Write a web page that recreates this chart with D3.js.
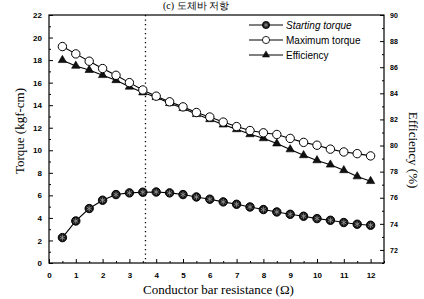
<!DOCTYPE html>
<html>
<head>
<meta charset="utf-8">
<script src="https://cdn.jsdelivr.net/npm/d3@7"></script>
<style>
  body { margin: 0; background: #fff; }
  .tick text { font-family: "Liberation Sans", Arial, sans-serif; font-weight: bold; font-size: 8px; }
</style>
</head>
<body>
<div id="chart"></div>
<script>
// resistance values (ohm)
const resistance = [0.5,1,1.5,2,2.5,3,3.5,4,4.5,5,5.5,6,6.5,7,7.5,8,8.5,9,9.5,10,10.5,11,11.5,12];
const startingTorque = [2.25,3.73,4.83,5.57,6.07,6.22,6.28,6.3,6.22,6.07,5.86,5.66,5.42,5.21,4.97,4.74,4.53,4.32,4.15,3.94,3.79,3.59,3.44,3.35];
const maximumTorque = [19.2,18.55,17.9,17.25,16.65,16.0,15.35,14.8,14.3,13.85,13.35,12.95,12.5,12.1,11.75,11.55,11.4,11.05,10.7,10.45,10.1,9.85,9.7,9.5];
const efficiency = [86.54,86.1,85.78,85.39,85.0,84.5,84.06,83.7,83.24,82.86,82.4,82.01,81.6,81.24,80.86,80.55,80.15,79.7,79.25,78.86,78.53,78.1,77.63,77.27];
const xTicks = [0,1,2,3,4,5,6,7,8,9,10,11,12];
const leftTicks = [0,2,4,6,8,10,12,14,16,18,20,22];
const rightTicks = [72,74,76,78,80,82,84,86,88,90];
const markerX = 3.6;
const legendNames = ["Starting torque", "Maximum torque", "Efficiency"];

const W = 424, H = 299;
const m = {left: 49, right: 40, top: 15, bottom: 36};

const svg = d3.select("#chart").append("svg")
  .attr("width", W).attr("height", H);

const x = d3.scaleLinear().domain([0, 12.5]).range([m.left, W - m.right]);
const yL = d3.scaleLinear().domain([0, 22]).range([H - m.bottom, m.top]);
const yR = d3.scaleLinear().domain([71, 90]).range([H - m.bottom, m.top]);

// caption at the very top
svg.append("text")
  .attr("x", 196).attr("y", 9)
  .attr("text-anchor", "middle")
  .style("font-family", "Liberation Serif, serif").style("font-size", "10px")
  .text("(c) 도체바 저항");

// frame
svg.append("rect")
  .attr("x", x(0)).attr("y", yL(22))
  .attr("width", x(12.5) - x(0)).attr("height", yL(0) - yL(22))
  .attr("fill", "none").attr("stroke", "#000").attr("stroke-width", 1.2);

// axes (ticks pointing in)
const minor = (a, b, s) => d3.range(a, b + 0.001, s);

svg.append("g").attr("transform", `translate(0,${yL(0)})`)
  .call(d3.axisBottom(x).tickValues(minor(0.5, 12.5, 1)).tickSize(-2).tickFormat(""))
  .call(g => g.select(".domain").remove());
svg.append("g").attr("transform", `translate(0,${yL(0)})`)
  .call(d3.axisBottom(x).tickValues(xTicks).tickSize(-4).tickPadding(8).tickFormat(d3.format("d")))
  .call(g => g.select(".domain").remove())
  .call(g => g.selectAll("text").attr("dy", "0.9em"));

svg.append("g").attr("transform", `translate(${x(0)},0)`)
  .call(d3.axisLeft(yL).tickValues(minor(1, 21, 2)).tickSize(-2).tickFormat(""))
  .call(g => g.select(".domain").remove());
svg.append("g").attr("transform", `translate(${x(0)},0)`)
  .call(d3.axisLeft(yL).tickValues(leftTicks).tickSize(-4).tickPadding(7).tickFormat(d3.format("d")))
  .call(g => g.select(".domain").remove());

svg.append("g").attr("transform", `translate(${x(12.5)},0)`)
  .call(d3.axisRight(yR).tickValues(minor(71, 89, 2)).tickSize(-2).tickFormat(""))
  .call(g => g.select(".domain").remove());
svg.append("g").attr("transform", `translate(${x(12.5)},0)`)
  .call(d3.axisRight(yR).tickValues(rightTicks).tickSize(-4).tickPadding(6).tickFormat(d3.format("d")))
  .call(g => g.select(".domain").remove())
  .call(g => g.selectAll("text").style("font-size", "7px"));

svg.selectAll(".tick line").attr("stroke", "#000");

// axis titles
const serif = "'Liberation Serif', 'Times New Roman', serif";
svg.append("text")
  .attr("x", (x(0) + x(12.5)) / 2 + 2).attr("y", 294)
  .attr("text-anchor", "middle")
  .style("font-family", serif).style("font-size", "13px")
  .text("Conductor bar resistance (Ω)");
svg.append("text")
  .attr("transform", `translate(24,${131}) rotate(-90)`)
  .attr("text-anchor", "middle")
  .style("font-family", serif).style("font-size", "13px")
  .text("Torque (kgf-cm)");
svg.append("text")
  .attr("transform", `translate(409,${150}) rotate(90)`)
  .attr("text-anchor", "middle")
  .style("font-family", serif).style("font-size", "13px")
  .text("Efficiency (%)");

// dotted marker line
svg.append("line")
  .attr("x1", x(markerX)).attr("x2", x(markerX))
  .attr("y1", yL(22)).attr("y2", yL(0))
  .attr("stroke", "#000").attr("stroke-width", 1.3)
  .attr("stroke-dasharray", "1.3,3.2");

// series
const st = resistance.map((r, i) => [r, startingTorque[i]]);
const mt = resistance.map((r, i) => [r, maximumTorque[i]]);
const ef = resistance.map((r, i) => [r, efficiency[i]]);

const lineL = d3.line().x(d => x(d[0])).y(d => yL(d[1]));
const lineR = d3.line().x(d => x(d[0])).y(d => yR(d[1]));

function drawLine(data, gen) {
  svg.append("path").datum(data).attr("d", gen)
    .attr("fill", "none").attr("stroke", "#000").attr("stroke-width", 1.1);
}
drawLine(ef, lineR);
drawLine(mt, lineL);
drawLine(st, lineL);

const tri = d3.symbol().type(d3.symbolTriangle).size(30);
const star = d3.symbol().type(d3.symbolAsterisk || d3.symbolCross).size(22);

function filledMark(g) {
  g.append("circle").attr("r", 4.2).attr("fill", "#1a1a1a").attr("stroke", "#000");
  g.append("path").attr("d", star()).attr("fill", "none").attr("stroke", "#999").attr("stroke-width", 0.8);
}
function openMark(g) {
  g.append("circle").attr("r", 4.2).attr("fill", "#fff").attr("stroke", "#000").attr("stroke-width", 1);
}
function triMark(g) {
  g.append("path").attr("d", tri()).attr("fill", "#111").attr("stroke", "#000").attr("stroke-width", 0.6);
}

svg.append("g").selectAll("g").data(ef).join("g")
  .attr("transform", d => `translate(${x(d[0])},${yR(d[1])})`)
  .each(function () { triMark(d3.select(this)); });
svg.append("g").selectAll("g").data(mt).join("g")
  .attr("transform", d => `translate(${x(d[0])},${yL(d[1])})`)
  .each(function () { openMark(d3.select(this)); });
svg.append("g").selectAll("g").data(st).join("g")
  .attr("transform", d => `translate(${x(d[0])},${yL(d[1])})`)
  .each(function () { filledMark(d3.select(this)); });

// legend
const legendY = [25, 40, 55];
const marks = [filledMark, openMark, triMark];
legendNames.forEach((name, i) => {
  const g = svg.append("g").attr("transform", `translate(0,${legendY[i]})`);
  g.append("line").attr("x1", 249).attr("x2", 283).attr("stroke", "#000").attr("stroke-width", 1);
  const s = g.append("g").attr("transform", "translate(266,0) scale(0.85)");
  marks[i](s);
  g.append("text").attr("x", 286).attr("y", 3.5)
    .style("font-family", "'Liberation Sans', Arial, sans-serif")
    .style("font-size", "10px")
    .style("font-style", i === 0 ? "italic" : "normal")
    .text(name);
});
</script>
</body>
</html>
